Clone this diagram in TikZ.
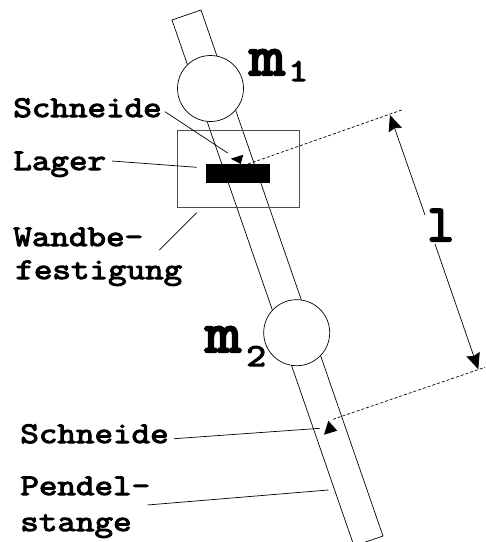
\documentclass[tikz,border=0pt]{standalone}
\usepackage{fontspec}
\newfontfamily\labelfont[FakeBold=3.5,FakeStretch=1.2]{Latin Modern Mono}
\newfontfamily\bigfont[FakeBold=4,FakeStretch=1.2]{Latin Modern Mono}
\newfontfamily\lenfont[FakeBold=4,FakeStretch=1.0]{Latin Modern Mono}
\usetikzlibrary{arrows.meta}
\tikzset{
	label/.style={font=\labelfont\fontsize{30}{30}\selectfont,anchor=base west,inner sep=0pt},
	big/.style={font=\bigfont\fontsize{58}{58}\selectfont,anchor=base west,inner sep=0pt},
	sub/.style={font=\labelfont\fontsize{32}{32}\selectfont,anchor=base west,inner sep=0pt},
	lenlabel/.style={font=\lenfont\fontsize{52}{52}\selectfont,anchor=base west,inner sep=0pt},
	mass/.style={draw,circle,fill=white,minimum size=66pt,inner sep=0pt},
	knife/.style={fill=black},
	leader/.style={line width=0.7pt},
	dim/.style={line width=0.7pt,-{Stealth[length=16pt,width=14pt,inset=2pt]}},
}
\begin{document}
\begin{tikzpicture}[x=1pt,y=-1pt,line width=0.7pt]
	\useasboundingbox (0,0) rectangle (486,542);
	% Rod
	\clip (0,0) rectangle (486,542);
	\coordinate (rodA) at (172,20);
	\coordinate (rodB) at (201,10);
	\coordinate (rodC) at (383,536);
	\coordinate (rodD) at (354,546);
	\draw (rodA) -- (rodB) -- (rodC) -- (rodD) -- cycle;
	% Wall mount
	\node[draw=black!70,minimum width=122pt,minimum height=77pt,inner sep=0pt] (mount) at (238,168.5) {};
	\node[knife,minimum width=64pt,minimum height=19pt,inner sep=0pt] (bearing) at (238,173.5) {};
	% Masses
	\node[mass] (massA) at (210.5,88.5) {};
	\node[mass] (massB) at (296.7,332.7) {};
	% Knife edges
	\fill[knife] (230.7,158.7) -- (243.3,154.7) -- (240.7,164) -- cycle;
	\fill[knife] (328.3,420.7) -- (324,434.7) -- (337.3,430.7) -- cycle;
	% Labels
	\node[label] (knifeTop) at (13,117) {Schneide};
	\node[label] (bearingLabel) at (13,170) {Lager};
	\node[label] (wallA) at (13,246) {Wandbe-};
	\node[label] (wallB) at (15,279) {festigung};
	\node[label] (knifeBot) at (20,443) {Schneide};
	\node[label] (rodLabelA) at (20,495) {Pendel-};
	\node[label] (rodLabelB) at (20,531) {stange};
	\node[big] (mOne) at (249,75) {m};
	\node[sub] (mOneSub) at (288,81) {1};
	\node[big] (mTwo) at (205,352) {m};
	\node[sub] (mTwoSub) at (246,366) {2};
	\node[lenlabel] (length) at (427,241) {l};
	% Leaders
	\coordinate (a1) at (165,111.7);
	\coordinate (a2) at (227.7,153);
	\coordinate (b1) at (112,161);
	\coordinate (b2) at (196.7,167.3);
	\coordinate (c1) at (159.3,250);
	\coordinate (c2) at (196.7,212.7);
	\coordinate (d1) at (174,438.7);
	\coordinate (d2) at (320,428.3);
	\coordinate (e1) at (147.3,505);
	\coordinate (e2) at (328.3,490);
	\draw[leader] (a1) -- (a2);
	\draw[leader] (b1) -- (b2);
	\draw[leader] (c1) -- (c2);
	\draw[leader] (d1) -- (d2);
	\draw[leader] (e1) -- (e2);
	% Length
	\coordinate (f1) at (248,164);
	\coordinate (f2) at (401.7,110);
	\coordinate (g1) at (333,419.3);
	\coordinate (g2) at (485,367.3);
	\coordinate (h1) at (390,115);
	\coordinate (h2) at (478.3,369.3);
	\coordinate (i1) at (425,215);
	\coordinate (i2) at (435,244);
	\draw[dashed,dash pattern=on 3pt off 2pt] (f1) -- (f2);
	\draw[dashed,dash pattern=on 3pt off 2pt] (g1) -- (g2);
	\draw[dim] (i1) -- (h1);
	\draw[dim] (i2) -- (h2);
\end{tikzpicture}
\end{document}
